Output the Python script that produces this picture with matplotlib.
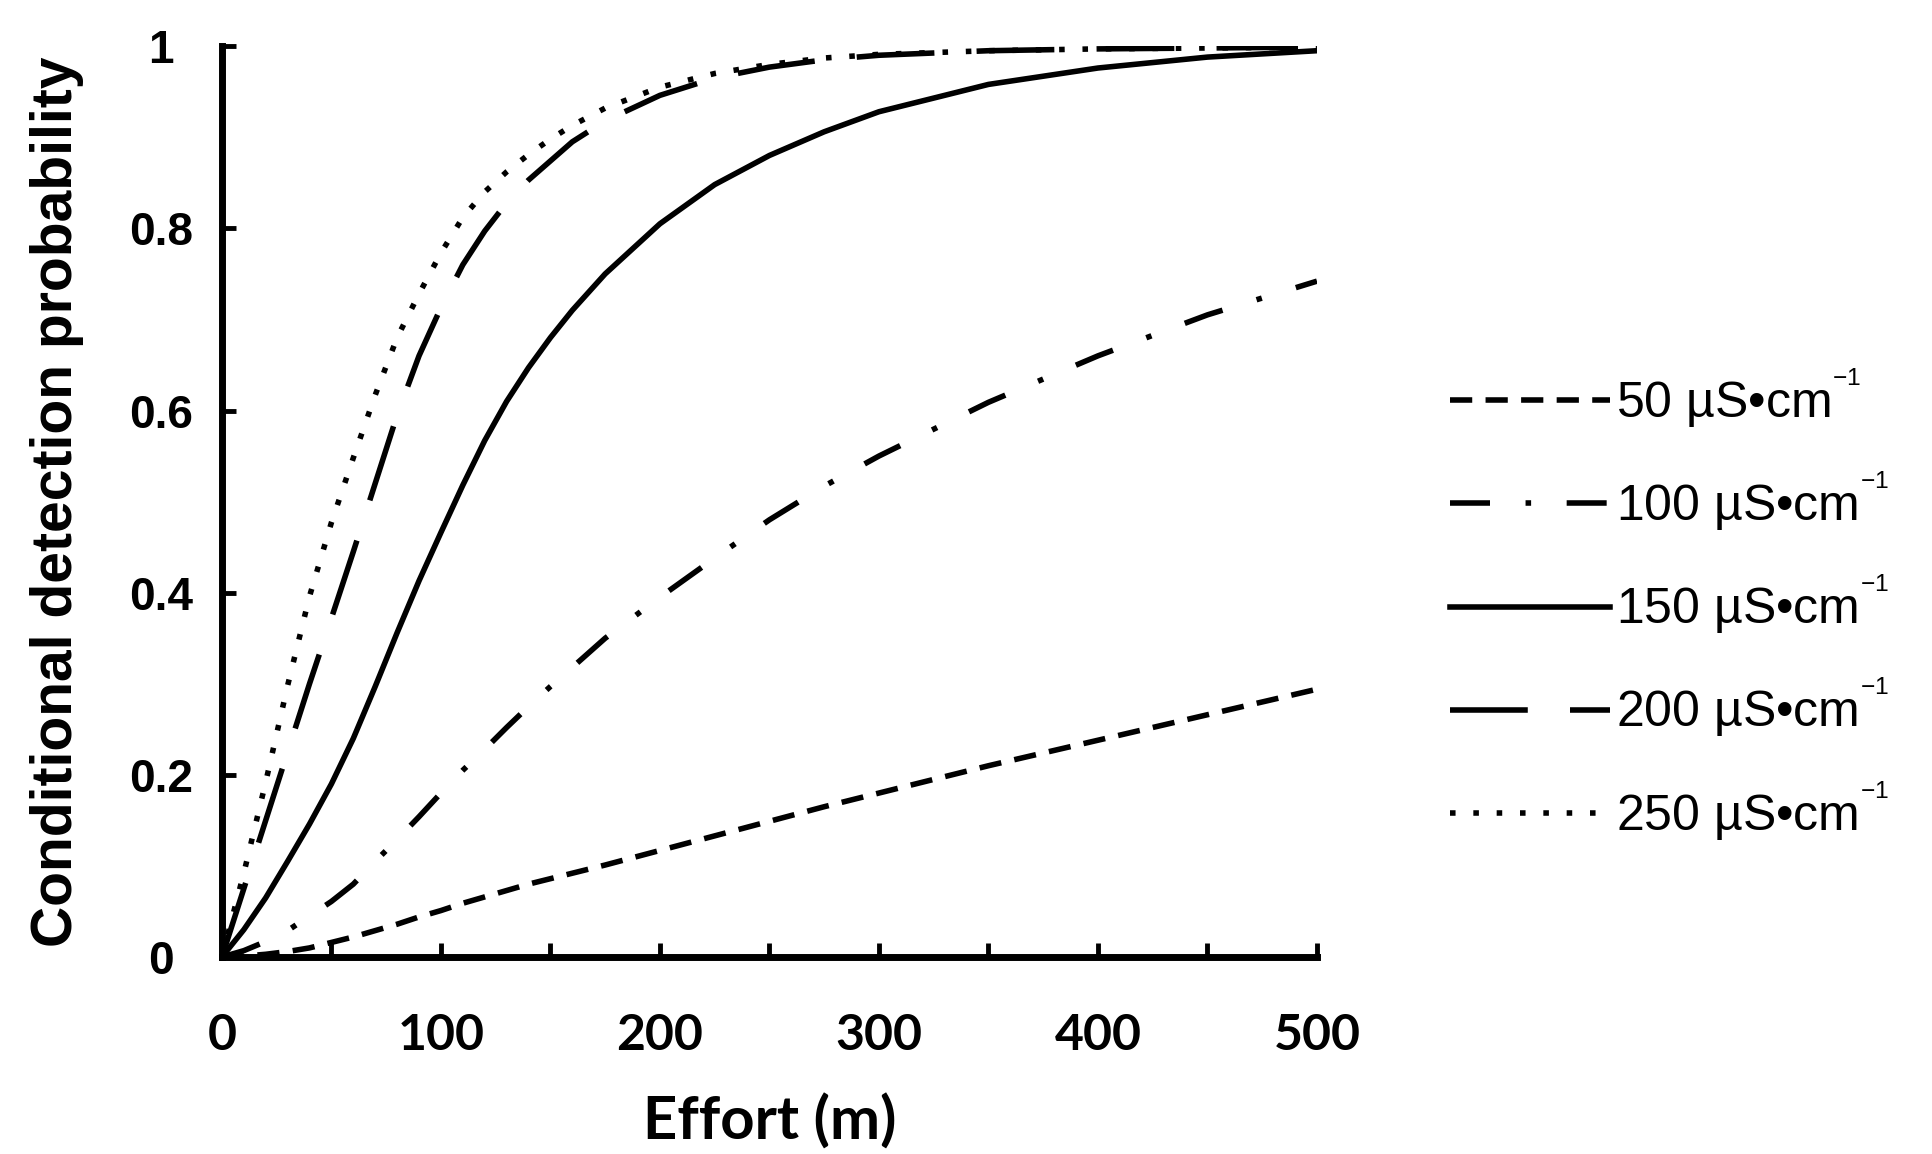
import numpy as np
import matplotlib
matplotlib.use('Agg')
import matplotlib.pyplot as plt
from matplotlib.ticker import MultipleLocator

plt.rcParams['font.family'] = ['Liberation Sans', 'DejaVu Sans']
plt.rcParams['mathtext.fontset'] = 'custom'
plt.rcParams['mathtext.rm'] = 'Liberation Sans'
plt.rcParams['mathtext.default'] = 'regular'

# effort (m) and conditional detection probability
effort = [0, 10, 20, 30, 40, 50, 60, 70, 80, 90, 100, 110, 120, 130, 140, 150, 160,
          175, 200, 225, 250, 275, 300, 350, 400, 450, 500]
p50 = [0, 0.001, 0.003, 0.006, 0.010, 0.016, 0.022, 0.029, 0.036, 0.044, 0.051,
       0.059, 0.066, 0.073, 0.080, 0.086, 0.092, 0.101, 0.117, 0.133, 0.149,
       0.165, 0.180, 0.210, 0.238, 0.266, 0.294]
p100 = [0, 0.007, 0.017, 0.029, 0.045, 0.061, 0.080, 0.105, 0.129, 0.154, 0.180,
        0.205, 0.228, 0.252, 0.275, 0.297, 0.318, 0.350, 0.395, 0.438, 0.480,
        0.517, 0.550, 0.609, 0.660, 0.705, 0.742]
p150 = [0, 0.030, 0.065, 0.105, 0.146, 0.190, 0.240, 0.297, 0.356, 0.413, 0.466,
        0.518, 0.567, 0.610, 0.647, 0.680, 0.710, 0.750, 0.805, 0.848, 0.880,
        0.906, 0.928, 0.958, 0.976, 0.988, 0.995]
p200 = [0, 0.075, 0.150, 0.225, 0.300, 0.372, 0.445, 0.520, 0.595, 0.660, 0.713,
        0.760, 0.797, 0.828, 0.853, 0.874, 0.895, 0.918, 0.946, 0.965, 0.977,
        0.985, 0.990, 0.995, 0.997, 0.998, 0.999]
p250 = [0, 0.092, 0.192, 0.298, 0.396, 0.477, 0.548, 0.617, 0.680, 0.728, 0.773,
        0.812, 0.840, 0.862, 0.881, 0.898, 0.913, 0.932, 0.955, 0.970, 0.980,
        0.987, 0.991, 0.995, 0.997, 0.998, 0.999]
labels = ['50 µS•cm$^{^{-1}}$', '100 µS•cm$^{^{-1}}$', '150 µS•cm$^{^{-1}}$',
          '200 µS•cm$^{^{-1}}$', '250 µS•cm$^{^{-1}}$']
yticks = [0, 0.2, 0.4, 0.6, 0.8, 1]
yticklabels = ['0', '0.2', '0.4', '0.6', '0.8', '1']

fig = plt.figure(figsize=(19.33, 11.54), dpi=100)
ax = fig.add_axes([0.1148, 0.1707, 0.5665, 0.7893])

lw = 4
ax.plot(effort, p50, color='k', lw=lw, dashes=(4, 2.4), label=labels[0])
ax.plot(effort, p100, color='k', lw=lw, dashes=(7.2, 6.4, 1.0, 6.4), label=labels[1])
ax.plot(effort, p150, color='k', lw=lw, label=labels[2])
ax.plot(effort, p200, color='k', lw=lw, dashes=(14, 7.6), label=labels[3])
ax.plot(effort, p250, color='k', lw=lw, dashes=(1.0, 3.2), label=labels[4])

ax.set_xlim(0, 500)
ax.set_ylim(0, 1)
for s in ['top', 'right']:
    ax.spines[s].set_visible(False)
for s in ['left', 'bottom']:
    ax.spines[s].set_linewidth(5)

ax.xaxis.set_major_locator(MultipleLocator(100))
ax.xaxis.set_minor_locator(MultipleLocator(50))
ax.set_yticks(yticks)
ax.set_yticklabels(yticklabels)
ax.tick_params(axis='both', which='both', direction='in', length=10, width=3.5)
ax.tick_params(axis='x', which='major', pad=40)
ax.tick_params(axis='y', pad=44)
for t in ax.get_xticklabels():
    t.set_fontfamily('Lato')
    t.set_fontweight('bold')
    t.set_fontsize(36)
for t in ax.get_yticklabels():
    t.set_fontweight('bold')
    t.set_fontsize(33)
    t.set_horizontalalignment('center')

ax.set_xlabel('Effort (m)', fontsize=43, fontfamily='Lato', fontweight='bold', labelpad=26)
ax.set_ylabel('Conditional detection probability', fontsize=41, fontweight='bold', labelpad=32)

leg = ax.legend(loc='center left', bbox_to_anchor=(1.08, 0.387), frameon=False,
                fontsize=36, handlelength=3.2, handletextpad=0.12, labelspacing=0.8)

fig.savefig('out.png', dpi=100, facecolor='white')
